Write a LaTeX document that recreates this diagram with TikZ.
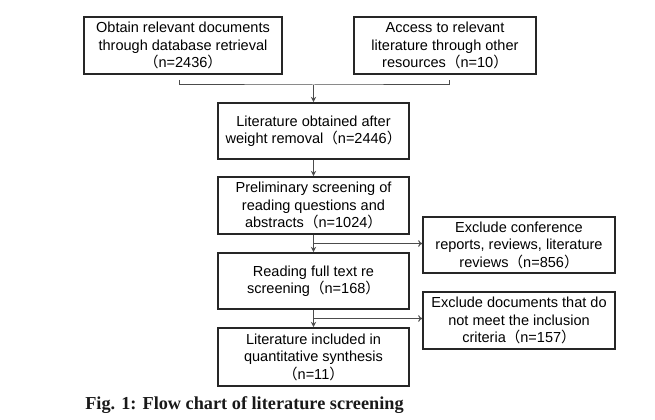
\documentclass[tikz,border=0pt]{standalone}
\usepackage{fontspec}
\setmainfont{Liberation Sans}
\newfontfamily\cjk{Noto Sans CJK SC}
\newfontfamily\capfont{Liberation Serif}
\usepackage{xcolor}
\usetikzlibrary{arrows.meta,calc}
\newcommand{\fwopen}{{\cjk （}}
\newcommand{\fwclose}{{\cjk ）}}

\begin{document}
\begin{tikzpicture}[x=0.75pt,y=0.75pt,yscale=-1,xscale=1,
  box/.style={draw=black!85,line width=1.3pt,align=center,inner sep=1pt,
    font=\fontsize{10.9}{13.1}\selectfont},
  flow/.style={draw=black!70,line width=0.75pt,-{Stealth[length=4pt,width=4pt]}},
  side/.style={draw=black!70,line width=0.75pt,-{To[length=3pt,width=5pt]}}]
%set diagram size 655 x 420
\useasboundingbox (0,0) rectangle (655,420);

%Shape: Rectangle [database]
\node [box,minimum width=198*0.75pt,minimum height=57*0.75pt] (database) at (183,45.5) {Obtain relevant documents\\through database retrieval\\\fwopen n=2436\fwclose};
%Shape: Rectangle [other]
\node [box,line width=1.1pt,minimum width=182*0.75pt,minimum height=57*0.75pt] (other) at (445,45.5) {Access to relevant\\literature through other\\resources\fwopen n=10\fwclose};
%Shape: Rectangle [dedup]
\node [box,minimum width=191*0.75pt,minimum height=56*0.75pt] (dedup) at (313.5,131) {Literature obtained after\\weight removal\fwopen n=2446\fwclose};
%Shape: Rectangle [prelim]
\node [box,minimum width=191*0.75pt,minimum height=57*0.75pt] (prelim) at (313.5,205.5) {Preliminary screening of\\reading questions and\\abstracts\fwopen n=1024\fwclose};
%Shape: Rectangle [fulltext]
\node [box,minimum width=191*0.75pt,minimum height=56*0.75pt] (fulltext) at (313.5,281) {Reading full text re\\screening\fwopen n=168\fwclose};
%Shape: Rectangle [included]
\node [box,minimum width=191*0.75pt,minimum height=58*0.75pt] (included) at (313.5,357) {Literature included in\\quantitative synthesis\\\fwopen n=11\fwclose};
%Shape: Rectangle [excl1]
\node [box,minimum width=192*0.75pt,minimum height=56*0.75pt] (excl1) at (519,245) {Exclude conference\\reports, reviews, literature\\reviews\fwopen n=856\fwclose};
%Shape: Rectangle [excl2]
\node [box,minimum width=192*0.75pt,minimum height=57*0.75pt] (excl2) at (519,320.5) {Exclude documents that do\\not meet the inclusion\\criteria\fwopen n=157\fwclose};

%Bracket joining the two sources
\coordinate (lt) at (179,80);
\coordinate (rt) at (449,80);
\coordinate (merge) at (dedup.north |- 0,85);
\draw [draw=black!70,line width=0.75pt] (lt) |- (merge) -| (rt);
\draw [flow] (merge) -- (dedup);

%Down arrows
\draw [flow] (dedup) -- (prelim);
\draw [flow] (prelim) -- (fulltext);
\draw [flow] (fulltext) -- (included);

%Side arrows to the exclusions
\coordinate (s1) at ($(prelim.south)!0.5!(fulltext.north)$);
\coordinate (s2) at ($(fulltext.south)!0.5!(included.north)$);
\draw [side] (s1) -- (s1 -| excl1.west);
\draw [side] (s2) -- (s2 -| excl2.west);

% Text Node
\node [anchor=west,inner sep=0pt,text=black!90] (caption) at (85,405) {\capfont\bfseries\fontsize{13.7}{15}\selectfont Fig. 1: Flow chart of literature screening};

\end{tikzpicture}
\end{document}
